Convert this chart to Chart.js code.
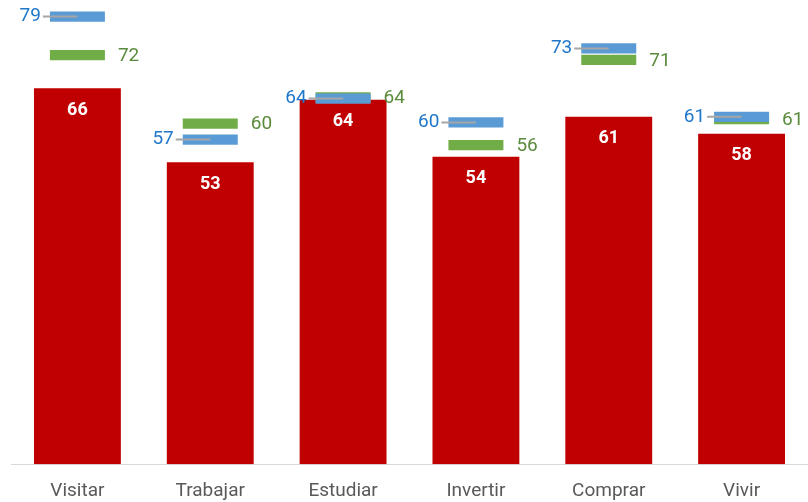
<!DOCTYPE html>
<html>
<head>
<meta charset="utf-8">
<script src="https://cdn.jsdelivr.net/npm/chart.js@4"></script>
<style>
  html, body { margin: 0; padding: 0; background: #fff; }
  #wrap { width: 808px; height: 502px; position: relative; }
</style>
</head>
<body>
<div id="wrap"><canvas id="chart"></canvas></div>
<script>
const categories = ['Visitar', 'Trabajar', 'Estudiar', 'Invertir', 'Comprar', 'Vivir'];
const barValues = [66, 53, 64, 54, 61, 58];
const blueValues = [78.6, 57, 64.2, 60, 73, 61];
const greenValues = [71.8, 59.8, 64.4, 56, 71, 60.6];

const HALF = 0.9; // half marker thickness, in value units

function marker(vals){ return vals.map(v => [v - HALF, v + HALF]); }

const labelPlugin = {
    id: 'labels',
    afterDatasetsDraw(chart){
        const c = chart.ctx;
        const y = chart.scales.y;
        c.save();
        c.font = 'bold 18px Roboto';
        c.fillStyle = '#ffffff';
        c.textAlign = 'center';
        c.textBaseline = 'middle';
        chart.getDatasetMeta(0).data.forEach((b, i) => {
            c.fillText(Math.round(barValues[i]), b.x, b.y + 22);
        });

        c.font = '19px Roboto';
        chart.getDatasetMeta(2).data.forEach((b, i) => {
            const yy = y.getPixelForValue(blueValues[i]);
            const left = b.x - b.width / 2;
            c.strokeStyle = '#a6a6a6';
            c.lineWidth = 2;
            c.beginPath();
            c.moveTo(left - 7, yy);
            c.lineTo(b.x, yy);
            c.stroke();
            c.fillStyle = '#1f77c9';
            c.textAlign = 'right';
            c.fillText(Math.round(blueValues[i]), left - 9, yy);
        });
        chart.getDatasetMeta(1).data.forEach((b, i) => {
            const yy = y.getPixelForValue(greenValues[i]);
            c.fillStyle = '#5a8a3c';
            c.textAlign = 'left';
            c.fillText(Math.round(greenValues[i]), b.x + b.width / 2 + 13, yy + 1);
        });
        c.restore();
    }
};

const ctx = document.getElementById('chart').getContext('2d');

new Chart(ctx, {
    type: 'bar',
    data: {
        labels: categories,
        datasets: [
            { data: barValues, backgroundColor: '#c00000', barPercentage: 0.654, categoryPercentage: 1, grouped: false, order: 3 },
            { data: marker(greenValues), backgroundColor: '#70ad47', barPercentage: 0.414, categoryPercentage: 1, grouped: false, order: 2 },
            { data: marker(blueValues), backgroundColor: '#5b9bd5', barPercentage: 0.414, categoryPercentage: 1, grouped: false, order: 1 }
        ]
    },
    options: {
        responsive: true,
        maintainAspectRatio: false,
        animation: false,
        layout: { padding: { left: 11, right: 0, top: 0, bottom: -17 } },
        plugins: { legend: { display: false }, tooltip: { enabled: false } },
        scales: {
            x: {
                grid: { display: false, drawTicks: false },
                border: { color: '#d9d9d9', width: 1 },
                ticks: { color: '#595959', font: { family: 'Roboto', size: 19 }, padding: 16 }
            },
            y: { display: false, min: 0, max: 81.5 }
        }
    },
    plugins: [labelPlugin]
});
</script>
</body>
</html>
